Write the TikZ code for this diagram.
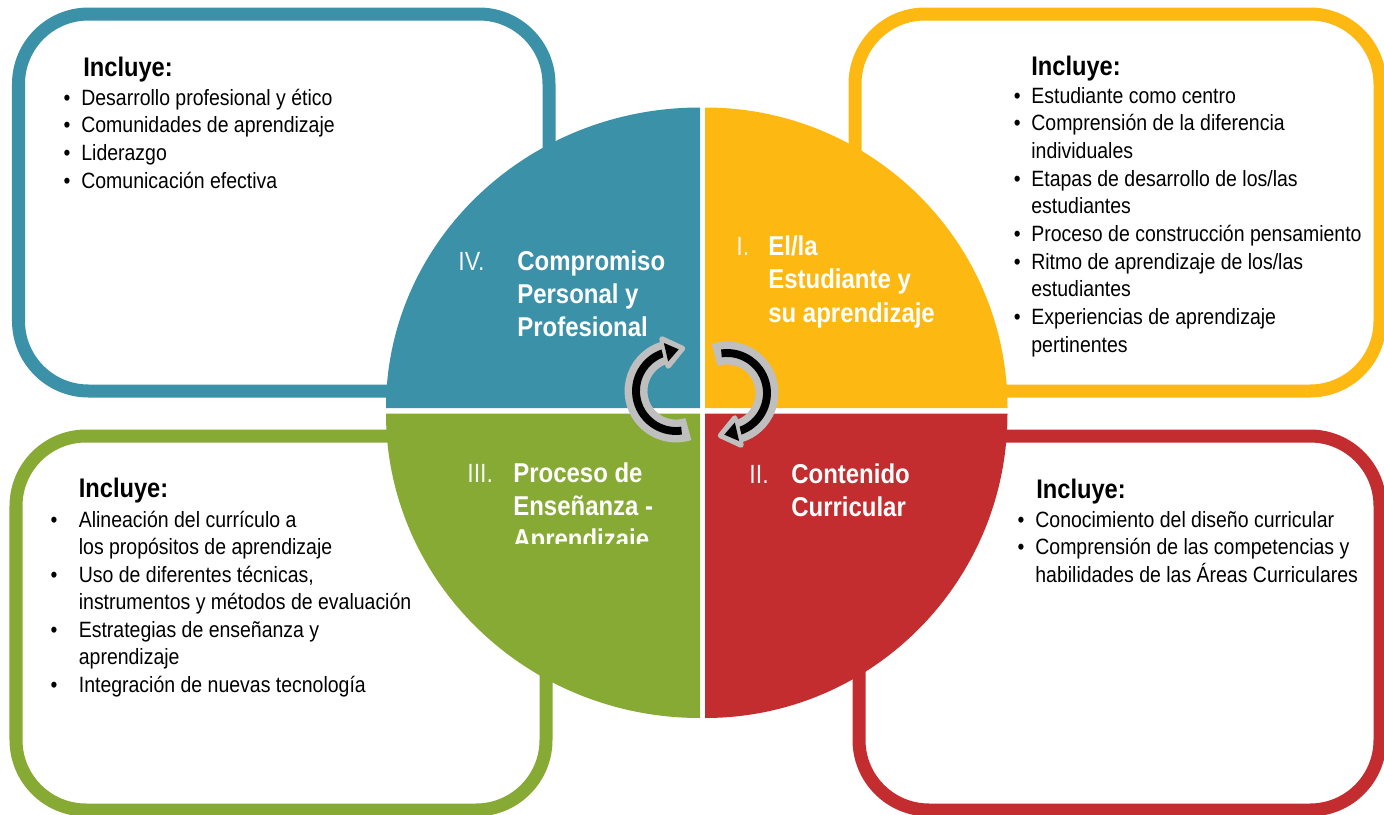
\documentclass[tikz,border=0pt]{standalone}
\usepackage{fontspec}
\setmainfont[FakeStretch=0.88]{Liberation Sans}
\usetikzlibrary{calc}

\definecolor{cteal}{HTML}{3A91A8}
\definecolor{cyellow}{HTML}{FDB812}
\definecolor{cred}{HTML}{C32D2F}
\definecolor{cgreen}{HTML}{86AA33}
\definecolor{cgray}{HTML}{BFBFBF}

% bullet hung left of the text
\newcommand{\bu}[1]{\llap{\textbullet\hspace{#1}}}

\begin{document}
\begin{tikzpicture}[x=0.02cm,y=-0.02cm,
  box/.style={line width=7.4pt, fill=white, rounded corners=1.4cm},
  head/.style={anchor=base west, inner sep=0, font=\fontsize{15.3}{18}\selectfont\bfseries},
  item/.style={anchor=base west, inner sep=0, font=\fontsize{12.6}{15}\selectfont},
  num/.style={anchor=base west, inner sep=0, text=white!96!black, font=\fontsize{15}{18}\selectfont},
  title/.style={anchor=base west, inner sep=0, text=white, font=\fontsize{15.5}{18}\selectfont\bfseries},
  ringout/.style={draw=cgray, line width=13pt},
  ringin/.style={draw=black, line width=4.5pt},
  headout/.style={draw=cgray, fill=cgray, line width=3pt, line join=round},
  headin/.style={fill=black}]
  \useasboundingbox (0,0) rectangle (1384,815);

  % boxes behind the circle
  \draw[box, draw=cteal] (18.5,14) rectangle (549,391);
  \draw[box, draw=cyellow] (855,14) rectangle (1380,391);
  \draw[box, draw=cgreen] (16,436) rectangle (546,810);
  \draw[box, draw=cred] (859,436) rectangle (1380,810);

  % quadrants
  \fill[cteal] (700,408) -- ++(-314,0) arc[start angle=180, end angle=270, x radius=314, y radius=300.5] -- cycle;
  \fill[cyellow] (705,408) -- ++(0,-300.5) arc[start angle=270, end angle=360, x radius=302.5, y radius=300.5] -- cycle;
  \fill[cred] (705,413.5) -- ++(302.5,0) arc[start angle=0, end angle=90, x radius=302.5, y radius=304.5] -- cycle;
  \fill[cgreen] (700,413.5) -- ++(0,304.5) arc[start angle=90, end angle=180, x radius=314, y radius=304.5] -- cycle;

  % quadrant titles
  \node[num] (n4) at (458,270) {IV.};
  \foreach \t [count=\i from 0] in {Compromiso, Personal y, Profesional}
    \node[title] (q4-\i) at (517,270+33*\i) {\t};
  \node[num] (n1) at (736,255) {I.};
  \foreach \t [count=\i from 0] in {{El/la}, Estudiante y, su aprendizaje}
    \node[title] (q1-\i) at (768,255+33.5*\i) {\t};
  \node[num] (n3) at (467,482) {III.};
  \begin{scope}
    \clip (390,420) rectangle (700,543.5);
    \foreach \t [count=\i from 0] in {Proceso de, Enseñanza -, Aprendizaje}
      \node[title] (q3-\i) at (513,482+33*\i) {\t};
  \end{scope}
  \node[num] (n2) at (749,483) {II.};
  \foreach \t [count=\i from 0] in {Contenido, Curricular}
    \node[title] (q2-\i) at (791,483+33.5*\i) {\t};

  % Incluye lists
  \node[head] (h4) at (83,76) {Incluye:};
  \foreach \b/\t [count=\i from 0] in {1/Desarrollo profesional y ético, 1/Comunidades de aprendizaje,
      1/Liderazgo, 1/Comunicación efectiva}
    \node[item] (l4-\i) at (81,105+27.7*\i) {\ifnum\b=1 \bu{6.2pt}\fi\t};

  \node[head] (h1) at (1031,75) {Incluye:};
  \foreach \b/\t [count=\i from 0] in {1/Estudiante como centro, 1/Comprensión de la diferencia,
      0/individuales, 1/{Etapas de desarrollo de los/las}, 0/estudiantes,
      1/Proceso de construcción pensamiento, 1/{Ritmo de aprendizaje de los/las},
      0/estudiantes, 1/Experiencias de aprendizaje, 0/pertinentes}
    \node[item] (l1-\i) at (1031,103+27.7*\i) {\ifnum\b=1 \bu{6pt}\fi\t};

  \node[head] (h3) at (78.5,497) {Incluye:};
  \foreach \b/\t [count=\i from 0] in {1/Alineación del currículo a, 0/los propósitos de aprendizaje,
      1/{Uso de diferentes técnicas,}, 0/instrumentos y métodos de evaluación,
      1/Estrategias de enseñanza y, 0/aprendizaje, 1/Integración de nuevas tecnología}
    \node[item] (l3-\i) at (78.5,527+27.5*\i) {\ifnum\b=1 \bu{12.2pt}\fi\t};

  \node[head] (h2) at (1036,498) {Incluye:};
  \foreach \b/\t [count=\i from 0] in {1/Conocimiento del diseño curricular,
      1/Comprensión de las competencias y, 0/habilidades de las Áreas Curriculares}
    \node[item] (l2-\i) at (1035,527+27.7*\i) {\ifnum\b=1 \bu{6.2pt}\fi\t};

  % cycle arrows
  \foreach \n/\px/\py/\a in {l/676/391/0, r/727/393/180} {
    \coordinate (ctr\n) at (\px,\py);
    \coordinate (base\n) at ($(ctr\n)+(\a+257:40)$);
    \coordinate (tipa\n) at ($(base\n)+(\a+257:14)+(\a+347:-2)$);
    \coordinate (tipb\n) at ($(base\n)+(\a+257:-14)+(\a+347:-2)$);
    \coordinate (tipc\n) at ($(base\n)+(\a+347:16)$);
    \coordinate (blka\n) at ($(base\n)+(\a+257:9.5)+(\a+347:-1)$);
    \coordinate (blkb\n) at ($(base\n)+(\a+257:-9.5)+(\a+347:-1)$);
    \coordinate (blkc\n) at ($(base\n)+(\a+347:12)$);
    \draw[ringout] (ctr\n) ++(\a+72:40) arc[start angle=\a+72, end angle=\a+257, radius=40];
    \draw[ringin] (ctr\n) ++(\a+82:40) arc[start angle=\a+82, end angle=\a+258, radius=40];
    \filldraw[headout] (tipa\n) -- (tipc\n) -- (tipb\n) -- cycle;
    \fill[headin] (blka\n) -- (blkc\n) -- (blkb\n) -- cycle;
  }
\end{tikzpicture}
\end{document}
